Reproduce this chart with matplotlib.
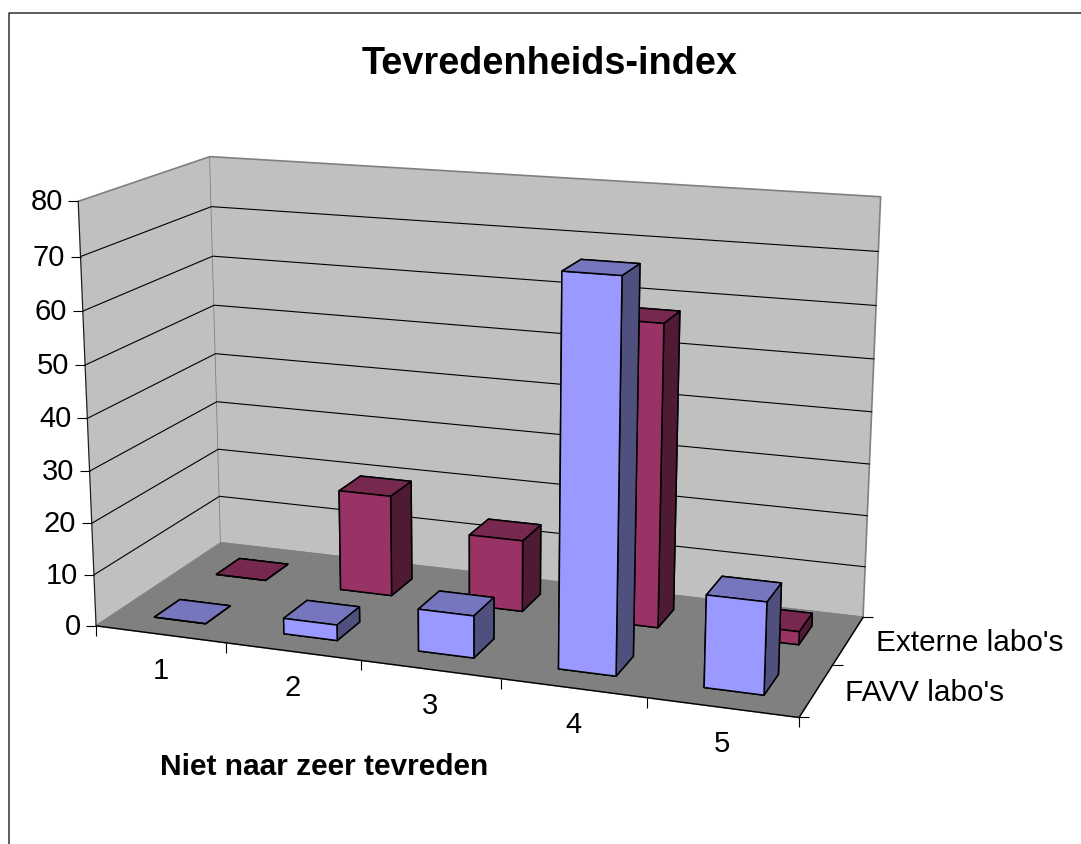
import numpy as np
import matplotlib
matplotlib.use('Agg')
import matplotlib.pyplot as plt
from matplotlib.lines import Line2D
from mpl_toolkits.mplot3d import proj3d

plt.rcParams['font.family'] = ['Liberation Sans', 'DejaVu Sans']

# Data
categories = ['1', '2', '3', '4', '5']
series_names = ["FAVV labo's", "Externe labo's"]
favv = [0, 3, 8, 72, 17]
externe = [0, 20, 14, 58, 2.5]
z_ticks = [0, 10, 20, 30, 40, 50, 60, 70, 80]

W, H = 1081, 844
fig = plt.figure(figsize=(W / 100, H / 100), dpi=100)

# camera values fitted to the corners of the reference box
l_px, b_px, w_px = 33.65, -18.87, 872.01
ax = fig.add_axes([l_px / W, b_px / H, w_px / W, w_px / H], projection='3d')
n = len(categories)
m = len(series_names)
top = z_ticks[-1]
ax.set_xlim(0, n)
ax.set_ylim(0, m)
ax.set_zlim(0, top)
ax.view_init(elev=14.9893, azim=-70.0714, roll=-0.0034)
ax.set_proj_type('persp', focal_length=0.53061)
ax.set_box_aspect((1.66647, 0.66696, 1))
ax.patch.set_alpha(0)
ax.computed_zorder = False

# Walls and floor (set_pane_color also resets the edge, so edges come after)
ax.set_xticks([])
ax.set_yticks([])
ax.set_zticks([])
ax.xaxis.set_pane_color('#C0C0C0')
ax.yaxis.set_pane_color('#C0C0C0')
ax.zaxis.set_pane_color('#808080')
for axis in (ax.xaxis, ax.yaxis, ax.zaxis):
    axis.line.set_color((0, 0, 0, 0))
    axis.pane.set_edgecolor('#808080')
    axis.pane.set_linewidth(1.2)

# Grid on both walls
for z in z_ticks[1:-1]:
    ax.plot([0, 0, n], [0, m, m], [z, z, z], color='k', lw=0.8, zorder=1)

# Axis lines and tick marks
ax.plot([0, n], [0, 0], [0, 0], color='k', lw=1, zorder=1)
ax.plot([n, n], [0, m], [0, 0], color='k', lw=1, zorder=1)
ax.plot([0, 0], [0, 0], [0, top], color='#202020', lw=0.9, zorder=1)
ax.plot(np.zeros(len(z_ticks)), np.zeros(len(z_ticks)), z_ticks, ls='none',
        marker=0, ms=7, mew=0.8, color='k', zorder=1)
ax.plot(np.arange(n + 1), np.zeros(n + 1), np.zeros(n + 1), ls='none',
        marker=3, ms=7, mew=0.8, color='k', zorder=1)
ax.plot(np.full(m + 1, n), np.arange(m + 1), np.zeros(m + 1), ls='none',
        marker=1, ms=7, mew=0.8, color='k', zorder=1)


def bars(row, values, top_c, front_c, side_c, zorder):
    # one colour per face: bottom, top, front, back, left, right
    gap = 0.3
    faces = [top_c, top_c, front_c, front_c, side_c, side_c] * n
    ax.bar3d(np.arange(n) + gap, np.full(n, row + gap), np.zeros(n),
             1 - 2 * gap, 1 - 2 * gap, values, shade=False, color=faces,
             edgecolor='k', linewidth=1.1, zorder=zorder)


bars(1, externe, '#77284F', '#993366', '#4F1A33', 2)
bars(0, favv, '#7676BE', '#9999FF', '#50507F', 3)


def label(x, y, z, s, dx, dy, ha, size=21):
    # plain text next to a point of the box, offset in pixels
    u, v, _ = proj3d.proj_transform(x, y, z, ax.get_proj())
    ax.annotate(s, (u, v), xytext=(dx, dy), textcoords='offset pixels', ha=ha,
                va='center', fontsize=size, annotation_clip=False, zorder=5)


for z in z_ticks:
    label(0, 0, z, str(z), -15.5, -1, 'right')
for i, c in enumerate(categories):
    label(i + 0.5, 0, 0, c, 0, -37, 'center')
label(n, 0.5, 0, series_names[0], 29, -2.5, 'left', 21.4)
label(n, 1.5, 0, series_names[1], 28, -2.5, 'left', 21.4)

fig.text(550 / W, 1 - 64 / H, 'Tevredenheids-index', ha='center', va='center',
         fontsize=27.3, fontweight='bold')
fig.text(324 / W, 1 - 767 / H, 'Niet naar zeer tevreden', ha='center', va='center',
         fontsize=21.5, fontweight='bold')

# Chart frame, only its top and left edges fall inside the picture
fig.add_artist(Line2D([1, 9 / W, 9 / W], [1 - 12.5 / H, 1 - 12.5 / H, 0],
                      color='#303030', lw=1.1))

fig.savefig('out.png', dpi=100)
